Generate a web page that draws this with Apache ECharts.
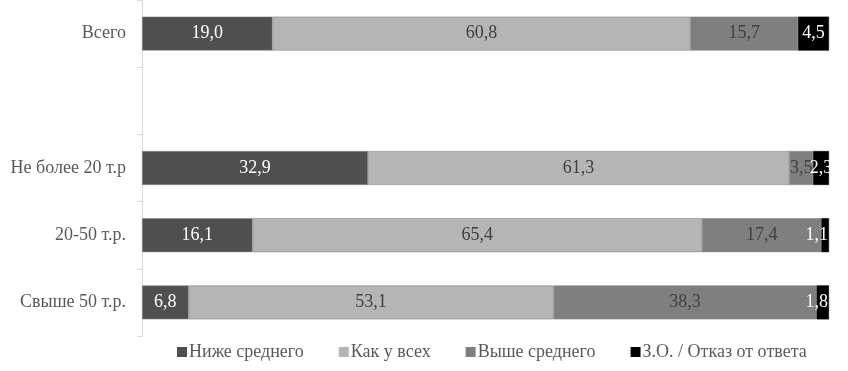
<!DOCTYPE html>
<html>
<head>
<meta charset="utf-8">
<script src="https://cdn.jsdelivr.net/npm/echarts@6/dist/echarts.min.js"></script>
<style>html,body{margin:0;padding:0;background:#fff;}#c{width:848px;height:371px;}</style>
</head>
<body>
<div id="c"></div>
<script>
const categories = ['Всего', '', 'Не более 20 т.р', '20-50 т.р.', 'Свыше 50 т.р.'];
const seriesNames = ['Ниже среднего', 'Как у всех', 'Выше среднего', 'З.О. / Отказ от ответа'];
const below = [19.0, null, 32.9, 16.1, 6.8];
const same = [60.8, null, 61.3, 65.4, 53.1];
const above = [15.7, null, 3.5, 17.4, 38.3];
const noAnswer = [4.5, null, 2.3, 1.1, 1.8];

const colors = ['#4f4f4f', '#b5b5b5', '#7f7f7f', '#000000'];
const labelColors = ['#ffffff', '#404040', '#404040', '#ffffff'];
const values = [below, same, above, noAnswer];
const font = '"Liberation Serif", "Times New Roman", serif';

function buildData(arr, isLast) {
  return arr.map(v => {
    if (isLast && v != null && v < 2) {
      return { value: v, label: { position: 'insideRight', distance: 1 } };
    }
    return v;
  });
}

const chart = echarts.init(document.getElementById('c'));
chart.setOption({
  animation: false,
  textStyle: { fontFamily: font },
  grid: { left: 142, right: 19, top: 0, bottom: 35, containLabel: false },
  xAxis: {
    type: 'value', min: 0, max: 100,
    show: false
  },
  yAxis: {
    type: 'category', inverse: true, data: categories,
    axisLine: { lineStyle: { color: '#d9d9d9', width: 1 } },
    axisTick: { show: true, length: 5, lineStyle: { color: '#d9d9d9' } },
    axisLabel: { color: '#595959', fontSize: 18, fontFamily: font, margin: 16 }
  },
  legend: {
    top: 338, left: 172,
    itemWidth: 10, itemHeight: 10, itemGap: 35,
    icon: 'rect',
    itemStyle: { borderWidth: 0 },
    textStyle: { color: '#595959', fontSize: 18, fontFamily: font, padding: [0, 0, 0, -3] },
    data: seriesNames
  },
  series: seriesNames.map((name, i) => ({
    name: name, type: 'bar', stack: 'total', barWidth: 34,
    data: buildData(values[i], i === 3),
    itemStyle: { color: colors[i], borderColor: i === 3 ? '#000' : '#8c8c8c', borderWidth: 0.6 },
    label: {
      show: true, position: 'inside', color: labelColors[i],
      fontSize: 18, fontFamily: font,
      formatter: p => p.value == null ? '' : p.value.toFixed(1).replace('.', ',')
    }
  }))
});
</script>
</body>
</html>
